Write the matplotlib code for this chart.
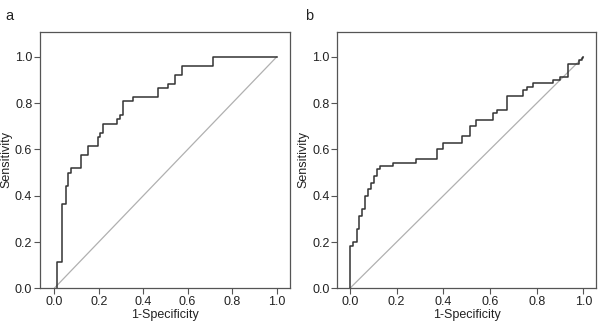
import matplotlib
matplotlib.use("Agg")
import matplotlib.pyplot as plt

plt.rcParams['font.family'] = ['Liberation Sans', 'DejaVu Sans']

# Panel a ROC (jump points: at fpr x, sensitivity rises to y)
fpr_a = [0.012, 0.012, 0.033, 0.051, 0.063, 0.075, 0.12, 0.153, 0.195, 0.206, 0.221,
         0.281, 0.296, 0.31, 0.355, 0.468, 0.51, 0.543, 0.573, 0.715, 1.0]
tpr_a = [0.0, 0.115, 0.365, 0.442, 0.5, 0.519, 0.577, 0.615, 0.654, 0.673, 0.712,
         0.731, 0.75, 0.808, 0.827, 0.865, 0.885, 0.923, 0.962, 1.0, 1.0]

# Panel b ROC
fpr_b = [0.0, 0.0, 0.014, 0.029, 0.04, 0.053, 0.066, 0.077, 0.089, 0.103, 0.114, 0.131,
         0.183, 0.283, 0.374, 0.4, 0.479, 0.514, 0.54, 0.614, 0.629, 0.672, 0.743,
         0.757, 0.783, 0.871, 0.9, 0.936, 0.982, 0.993, 1.0]
tpr_b = [0.0, 0.184, 0.2, 0.257, 0.314, 0.343, 0.4, 0.429, 0.457, 0.486, 0.514, 0.529,
         0.543, 0.557, 0.6, 0.629, 0.657, 0.7, 0.729, 0.757, 0.771, 0.829, 0.857,
         0.871, 0.886, 0.9, 0.914, 0.971, 0.986, 0.994, 1.0]

ref_line = [0.0, 1.0]
ticks = [0.0, 0.2, 0.4, 0.6, 0.8, 1.0]
tick_labels = ["0.0", "0.2", "0.4", "0.6", "0.8", "1.0"]
panel_labels = ["a", "b"]

fig = plt.figure(figsize=(6.0, 3.26), dpi=100)
ax_a = fig.add_axes([40/600, 1 - 288.3/326, 250/600, 256.6/326])
ax_b = fig.add_axes([337.3/600, 1 - 288.3/326, 258.7/600, 256.6/326])

specs = [(ax_a, fpr_a, tpr_a, (-0.064, 1.06), 5),
         (ax_b, fpr_b, tpr_b, (-0.054, 1.054), 305)]

for (ax, fx, ty, xl, lx), lab in zip(specs, panel_labels):
    ax.plot(ref_line, ref_line, color='#b0b0b0', lw=0.9)
    ax.step(fx, ty, where='post', color='#333333', lw=1.1)
    ax.set_xlim(*xl)
    ax.set_ylim(0, 1.109)
    ax.set_xticks(ticks)
    ax.set_xticklabels(tick_labels)
    ax.set_yticks(ticks)
    ax.set_yticklabels(tick_labels)
    ax.tick_params(direction='out', length=4, width=0.8, color='#555555',
                   labelsize=9, pad=1.5, labelcolor='#222222')
    for s in ax.spines.values():
        s.set_color('#555555')
        s.set_linewidth(0.9)
    ax.set_xlabel("1-Specificity", fontsize=9, labelpad=1, color='#222222')
    ax.set_ylabel("Sensitivity", fontsize=9, labelpad=2, color='#222222')
    fig.text(lx / 600, 1 - 20/326, lab, fontsize=10.5, color='#222222')

fig.savefig("out.png", dpi=100)
